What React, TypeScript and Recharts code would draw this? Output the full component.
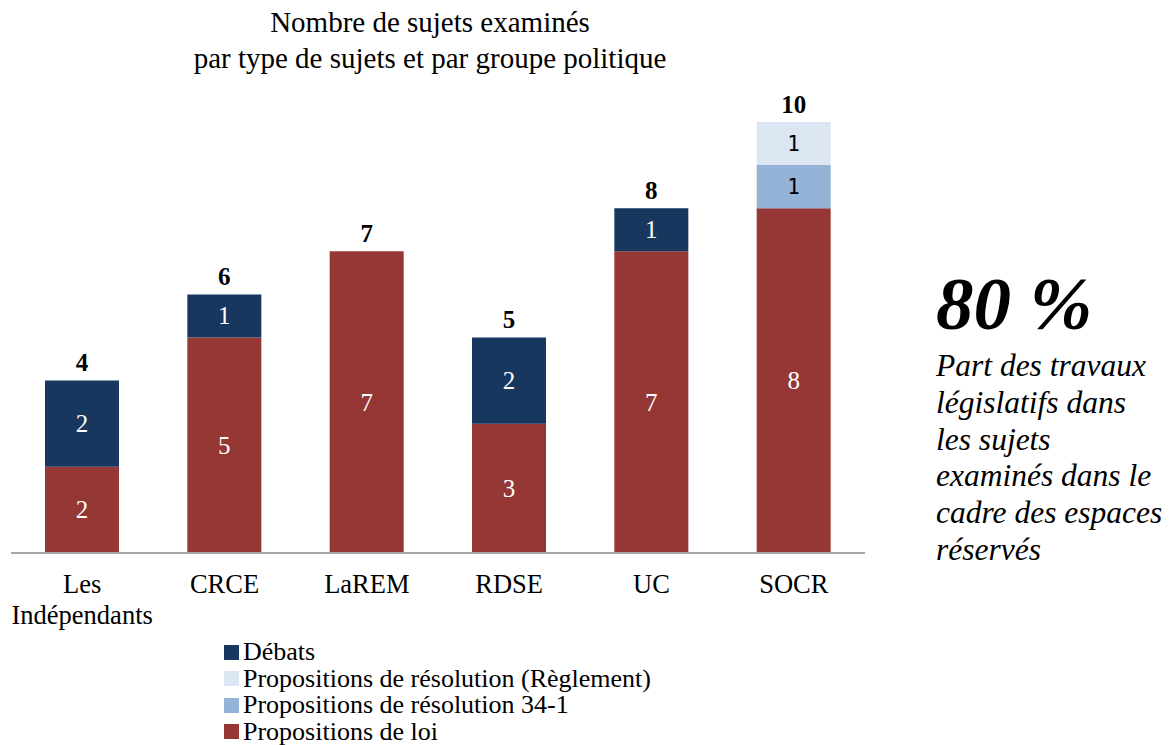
import React from "react";
import { BarChart, Bar, XAxis, YAxis, LabelList } from "recharts";

const groups = ["Les Indépendants", "CRCE", "LaREM", "RDSE", "UC", "SOCR"];
const propLoi = [2, 5, 7, 3, 7, 8];
const debats = [2, 1, 0, 2, 1, 0];
const prop341 = [0, 0, 0, 0, 0, 1];
const propReglement = [0, 0, 0, 0, 0, 1];

const C_DEBATS = "#17375E";
const C_REGL = "#DCE6F2";
const C_341 = "#95B3D7";
const C_LOI = "#953735";

const SERIF = "'Liberation Serif', Tinos, 'Times New Roman', serif";
const MONO = "'DejaVu Sans Mono', monospace";

const data = groups.map((g, i) => ({
  name: g,
  loi: propLoi[i],
  debats: debats[i],
  p341: prop341[i],
  regl: propReglement[i],
  total: propLoi[i] + debats[i] + prop341[i] + propReglement[i],
}));

function segLabel(color: string, font: string, size: number) {
  return (p: any) => {
    const { x, y, width, height, value } = p;
    if (!value) return null;
    return (
      <text
        x={x + width / 2}
        y={y + height / 2}
        textAnchor="middle"
        dominantBaseline="central"
        fill={color}
        fontFamily={font}
        fontSize={size}
      >
        {value}
      </text>
    );
  };
}

// total above the stack, placed from the base bar's own scale (px per unit)
function loiWithTotal(p: any) {
  const { x, y, width, height, value, index } = p;
  const total = data[index].total;
  const unit = height / value;
  const top = y + height - total * unit;
  return (
    <g>
      <text
        x={x + width / 2}
        y={y + height / 2}
        textAnchor="middle"
        dominantBaseline="central"
        fill="#fff"
        fontFamily={SERIF}
        fontSize={25}
      >
        {value}
      </text>
      <text
        x={x + width / 2}
        y={top - 18}
        textAnchor="middle"
        dominantBaseline="central"
        fill="#000"
        fontFamily={SERIF}
        fontWeight="bold"
        fontSize={25}
      >
        {total}
      </text>
    </g>
  );
}

function GroupTick(p: any) {
  const { x, y, payload } = p;
  const words = payload.value === "Les Indépendants" ? ["Les", "Indépendants"] : [payload.value];
  return (
    <text x={x} y={y} textAnchor="middle" fill="#000" fontFamily={SERIF} fontSize={26.5}>
      {words.map((w: string, i: number) => (
        <tspan key={i} x={x} dy={i === 0 ? 32 : 31}>
          {w}
        </tspan>
      ))}
    </text>
  );
}

const legendItems = [
  { label: "Débats", color: C_DEBATS },
  { label: "Propositions de résolution (Règlement)", color: C_REGL },
  { label: "Propositions de résolution 34-1", color: C_341 },
  { label: "Propositions de loi", color: C_LOI },
];

export default function App() {
  return (
    <div style={{ position: "absolute", left: 0, top: 0, width: 1176, height: 745, background: "#fff", fontFamily: SERIF }}>
      <div style={{ position: "absolute", left: 80, top: 4, width: 700, textAlign: "center", fontSize: 29, lineHeight: "36px", color: "#000" }}>
        Nombre de sujets examinés
        <br />
        par type de sujets et par groupe politique
      </div>
      <BarChart
        width={880}
        height={745}
        data={data}
        margin={{ top: 122, right: 15, left: 11, bottom: 132 }}
        barSize={74}
      >
        <YAxis hide domain={[0, 10]} />
        <XAxis
          dataKey="name"
          height={60}
          tickLine={false}
          axisLine={{ stroke: "#A6A6A6", strokeWidth: 2 }}
          tick={<GroupTick />}
          interval={0}
        />
        <Bar dataKey="loi" stackId="a" fill={C_LOI} isAnimationActive={false}>
          <LabelList dataKey="loi" content={loiWithTotal} />
        </Bar>
        <Bar dataKey="debats" stackId="a" fill={C_DEBATS} isAnimationActive={false}>
          <LabelList dataKey="debats" content={segLabel("#fff", SERIF, 25)} />
        </Bar>
        <Bar dataKey="p341" stackId="a" fill={C_341} isAnimationActive={false}>
          <LabelList dataKey="p341" content={segLabel("#000", MONO, 21)} />
        </Bar>
        <Bar dataKey="regl" stackId="a" fill={C_REGL} isAnimationActive={false}>
          <LabelList dataKey="regl" content={segLabel("#000", MONO, 21)} />
        </Bar>
      </BarChart>
      <div style={{ position: "absolute", left: 224, top: 639, fontSize: 26, lineHeight: "26.5px", color: "#000", whiteSpace: "nowrap" }}>
        {legendItems.map((it) => (
          <div key={it.label} style={{ display: "flex", alignItems: "center", height: 26.5 }}>
            <span style={{ display: "inline-block", width: 15, height: 15, background: it.color, marginRight: 4 }} />
            {it.label}
          </div>
        ))}
      </div>
      <div style={{ position: "absolute", left: 936, top: 266, color: "#000", fontStyle: "italic", whiteSpace: "nowrap" }}>
        <div style={{ fontSize: 75, fontWeight: "bold", lineHeight: "76px" }}>80 %</div>
        <div style={{ fontSize: 31.5, lineHeight: "36.8px", marginTop: 6 }}>
          Part des travaux
          <br />
          législatifs dans
          <br />
          les sujets
          <br />
          examinés dans le
          <br />
          cadre des espaces
          <br />
          réservés
        </div>
      </div>
    </div>
  );
}
